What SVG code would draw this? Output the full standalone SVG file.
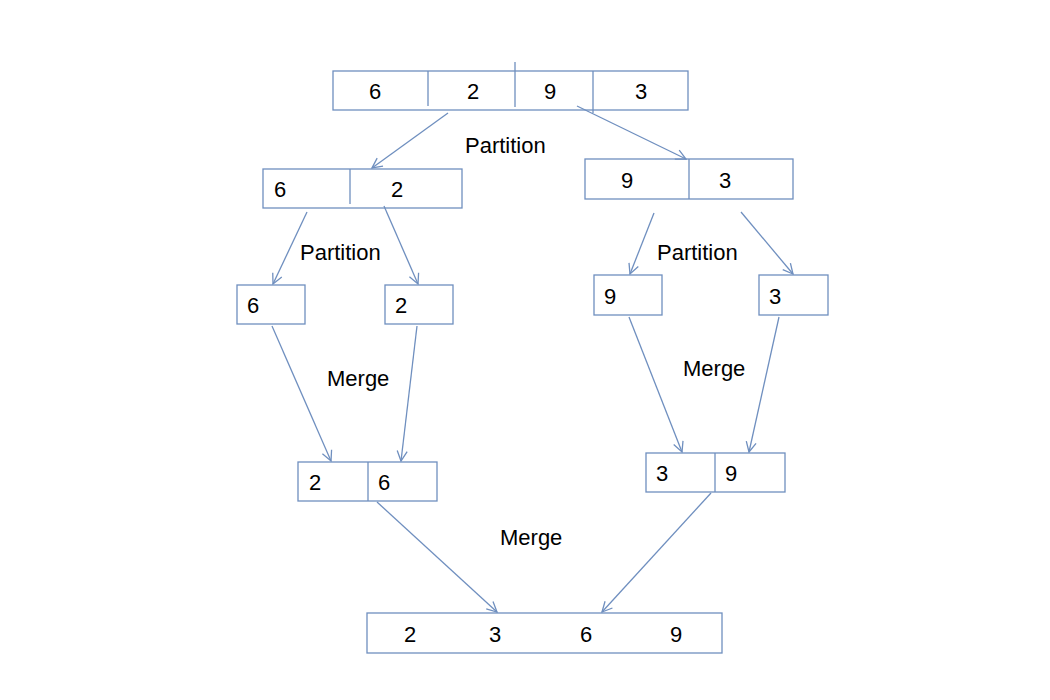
<svg xmlns="http://www.w3.org/2000/svg" width="1050" height="700" viewBox="0 0 1050 700">
<style>
.box{fill:#fff;stroke:#6f8fbf;stroke-width:1.3}
.div{stroke:#6f8fbf;stroke-width:1.3;fill:none}
.con{stroke:#6f8fbf;stroke-width:1.3;fill:none;marker-end:url(#arr)}
.num{font-family:"Liberation Sans",Arial,sans-serif;font-size:22px;fill:#000;text-anchor:middle}
.lbl{font-family:"Liberation Sans",Arial,sans-serif;font-size:22px;fill:#000}
</style>
<defs>
<marker id="arr" viewBox="0 0 12 12" refX="11" refY="6" markerWidth="12" markerHeight="12" markerUnits="userSpaceOnUse" orient="auto">
<path d="M1,1 L11,6 L1,11" fill="none" stroke="#6f8fbf" stroke-width="1.3"/>
</marker>
</defs>
<rect width="1050" height="700" fill="#fff"/>
<g id="top">
<rect class="box" x="333" y="71" width="355" height="39"/>
<line class="div" x1="428" y1="71" x2="428" y2="106"/>
<line class="div" x1="515" y1="62" x2="515" y2="107"/>
<line class="div" x1="593" y1="71" x2="593" y2="113"/>
<text class="num" x="375" y="99">6</text>
<text class="num" x="473" y="99">2</text>
<text class="num" x="550" y="99">9</text>
<text class="num" x="641" y="99">3</text>
</g>
<g id="left62">
<rect class="box" x="263" y="169" width="199" height="39"/>
<line class="div" x1="350" y1="169" x2="350" y2="204"/>
<text class="num" x="280" y="197">6</text>
<text class="num" x="397" y="197">2</text>
</g>
<g id="right93">
<rect class="box" x="585" y="159" width="208" height="40"/>
<line class="div" x1="689" y1="159" x2="689" y2="199"/>
<text class="num" x="627" y="188">9</text>
<text class="num" x="725" y="188">3</text>
</g>
<g id="b6">
<rect class="box" x="237" y="285" width="68" height="39"/>
<text class="num" x="253" y="313">6</text>
</g>
<g id="b2">
<rect class="box" x="385" y="285" width="68" height="39"/>
<text class="num" x="401" y="313">2</text>
</g>
<g id="b9">
<rect class="box" x="594" y="275" width="68" height="40"/>
<text class="num" x="610" y="304">9</text>
</g>
<g id="b3">
<rect class="box" x="759" y="275" width="69" height="40"/>
<text class="num" x="775" y="304">3</text>
</g>
<g id="m26">
<rect class="box" x="298" y="462" width="139" height="39"/>
<line class="div" x1="368" y1="462" x2="368" y2="501"/>
<text class="num" x="315" y="490">2</text>
<text class="num" x="384" y="490">6</text>
</g>
<g id="m39">
<rect class="box" x="646" y="453" width="139" height="39"/>
<line class="div" x1="715" y1="453" x2="715" y2="492"/>
<text class="num" x="662" y="481">3</text>
<text class="num" x="731" y="481">9</text>
</g>
<g id="final">
<rect class="box" x="367" y="613" width="355" height="40"/>
<text class="num" x="410" y="642">2</text>
<text class="num" x="495" y="642">3</text>
<text class="num" x="586" y="642">6</text>
<text class="num" x="676" y="642">9</text>
</g>
<g id="connectors">
<line class="con" x1="448" y1="113" x2="372" y2="168"/>
<line class="con" x1="577" y1="106" x2="686" y2="159"/>
<line class="con" x1="307" y1="212" x2="273" y2="284"/>
<line class="con" x1="384" y1="206" x2="418" y2="284"/>
<line class="con" x1="654" y1="213" x2="630" y2="274"/>
<line class="con" x1="741" y1="212" x2="793" y2="274"/>
<line class="con" x1="272" y1="326" x2="331" y2="461"/>
<line class="con" x1="417" y1="326" x2="401" y2="461"/>
<line class="con" x1="629" y1="317" x2="682" y2="452"/>
<line class="con" x1="779" y1="317" x2="749" y2="452"/>
<line class="con" x1="377" y1="502" x2="497" y2="612"/>
<line class="con" x1="711" y1="493" x2="602" y2="612"/>
</g>
<g id="labels">
<text class="lbl" x="465" y="153">Partition</text>
<text class="lbl" x="300" y="260">Partition</text>
<text class="lbl" x="657" y="260">Partition</text>
<text class="lbl" x="327" y="386">Merge</text>
<text class="lbl" x="683" y="376">Merge</text>
<text class="lbl" x="500" y="545">Merge</text>
</g>
</svg>
